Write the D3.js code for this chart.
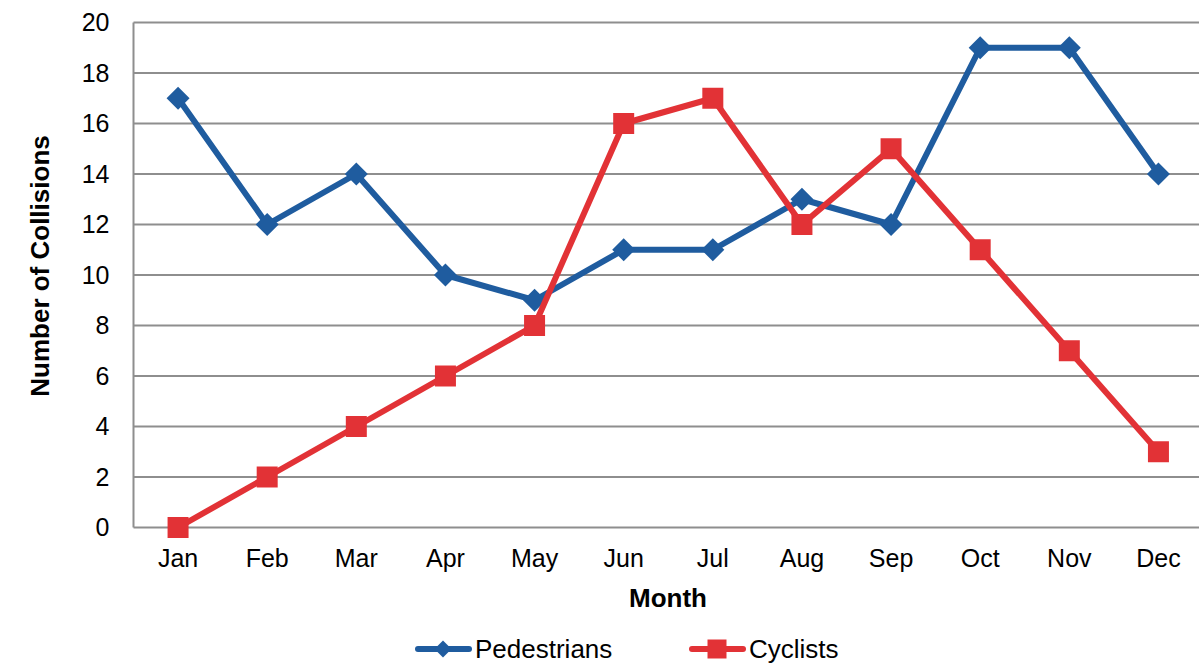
<!DOCTYPE html>
<html>
<head>
<meta charset="utf-8">
<script src="https://cdn.jsdelivr.net/npm/d3@7"></script>
<style>
    body { margin: 0; background: #fff; }
    text { font-family: "Liberation Sans", Arial, sans-serif; fill: #000; }
</style>
</head>
<body>
<script>
let months = ["Jan", "Feb", "Mar", "Apr", "May", "Jun", "Jul", "Aug", "Sep", "Oct", "Nov", "Dec"];
let pedestrians = [17, 12, 14, 10, 9, 11, 11, 13, 12, 19, 19, 14];
let cyclists = [0, 2, 4, 6, 8, 16, 17, 12, 15, 11, 7, 3];
let yTicks = [0, 2, 4, 6, 8, 10, 12, 14, 16, 18, 20];
let seriesNames = ["Pedestrians", "Cyclists"];

let svgWidth = 1199,
    svgHeight = 665,
    plot = {left: 133.5, right: 1203, top: 22.5, bottom: 527.5},
    blue = "#1f5c9f",
    red = "#e23236",
    fontSize = "25px",
    titleSize = "26px";

let svg = d3.select("body").append("svg")
    .attr("width", svgWidth)
    .attr("height", svgHeight);

let xScale = d3.scaleBand().domain(months).range([plot.left, plot.right]);
let yScale = d3.scaleLinear().domain([0, 20]).range([plot.bottom, plot.top]);

// grid lines
svg.append("g")
    .selectAll("line")
    .data(yTicks)
    .enter().append("line")
    .attr("x1", plot.left)
    .attr("x2", plot.right)
    .attr("y1", d => yScale(d))
    .attr("y2", d => yScale(d))
    .attr("stroke", "#8e8e8e")
    .attr("stroke-width", 2);

// y axis line
svg.append("line")
    .attr("x1", plot.left).attr("x2", plot.left)
    .attr("y1", plot.top).attr("y2", plot.bottom)
    .attr("stroke", "#8e8e8e")
    .attr("stroke-width", 2);

// y tick labels
let yAxis = d3.axisLeft(yScale).tickValues(yTicks).tickSize(0).tickPadding(24);
let yg = svg.append("g")
    .attr("transform", "translate(" + plot.left + ",0)")
    .call(yAxis);
yg.select(".domain").remove();
yg.selectAll("text")
    .style("font-size", fontSize)
    .attr("fill", "#000");

// x tick labels
let xAxis = d3.axisBottom(xScale).tickSize(0).tickPadding(22);
let xg = svg.append("g")
    .attr("transform", "translate(0," + plot.bottom + ")")
    .call(xAxis);
xg.select(".domain").remove();
xg.selectAll("text")
    .style("font-size", fontSize)
    .attr("fill", "#000");

// axis titles
svg.append("text")
    .attr("x", 668)
    .attr("y", 607)
    .attr("text-anchor", "middle")
    .style("font-size", titleSize)
    .style("font-weight", "bold")
    .text("Month");

svg.append("text")
    .attr("transform", "translate(49,266) rotate(-90)")
    .attr("text-anchor", "middle")
    .style("font-size", titleSize)
    .style("font-weight", "bold")
    .text("Number of Collisions");

let line = d3.line()
    .x((d, i) => xScale(months[i]) + xScale.bandwidth() / 2)
    .y(d => yScale(d));

function drawSeries(values, color, marker) {
    svg.append("path")
        .datum(values)
        .attr("d", line)
        .attr("fill", "none")
        .attr("stroke", color)
        .attr("stroke-width", 6)
        .attr("stroke-linejoin", "round");
    svg.append("g")
        .selectAll("path")
        .data(values)
        .enter().append("path")
        .attr("transform", (d, i) => "translate(" + (xScale(months[i]) + xScale.bandwidth() / 2) + "," + yScale(d) + ")")
        .attr("d", marker)
        .attr("fill", color);
}

let diamond = "M0,-11.5L11.5,0L0,11.5L-11.5,0Z";
let square = "M-10.5,-10.5H10.5V10.5H-10.5Z";
let smallDiamond = "M0,-8.5L8.5,0L0,8.5L-8.5,0Z";
let smallSquare = "M-9.5,-9.5H9.5V9.5H-9.5Z";

drawSeries(pedestrians, blue, diamond);
drawSeries(cyclists, red, square);

// legend
let legend = [
    {name: seriesNames[0], color: blue, marker: smallDiamond, x: 415},
    {name: seriesNames[1], color: red, marker: smallSquare, x: 689}
];
legend.forEach(l => {
    let g = svg.append("g").attr("transform", "translate(" + l.x + ",649)");
    g.append("line")
        .attr("x1", 3).attr("x2", 54)
        .attr("stroke", l.color)
        .attr("stroke-width", 6)
        .attr("stroke-linecap", "round");
    g.append("path")
        .attr("transform", "translate(28,0)")
        .attr("d", l.marker)
        .attr("fill", l.color);
    g.append("text")
        .attr("x", 60)
        .attr("y", 9)
        .style("font-size", titleSize)
        .text(l.name);
});
</script>
</body>
</html>
